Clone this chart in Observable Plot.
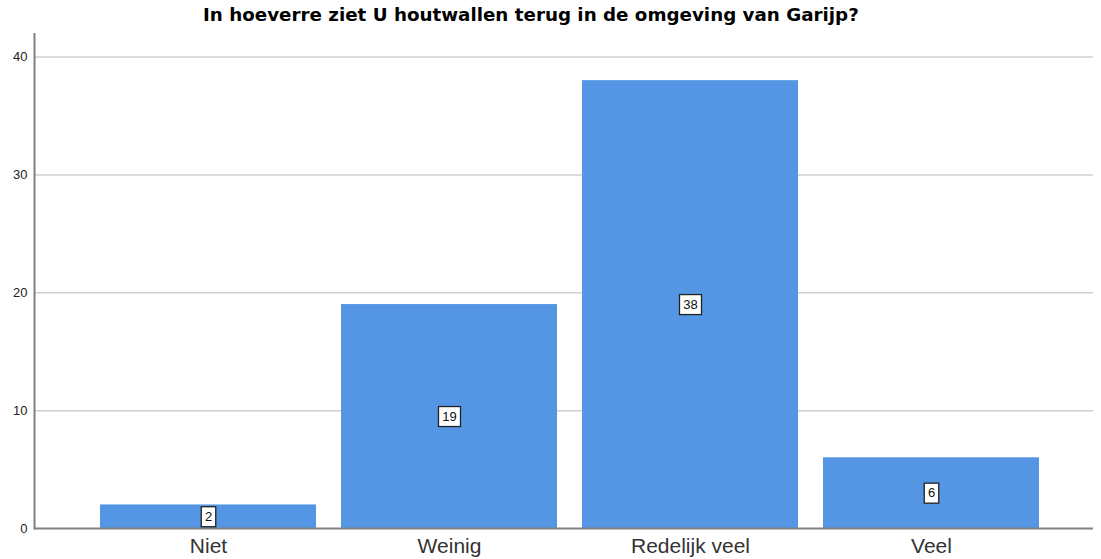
<!DOCTYPE html>
<html>
<head>
<meta charset="utf-8">
<script src="https://cdn.jsdelivr.net/npm/d3@7"></script>
<script src="https://cdn.jsdelivr.net/npm/@observablehq/plot@0.6"></script>
<style>
  body { margin: 0; background: #fff; font-family: "Liberation Sans", Arial, sans-serif; }
  #title { height: 33px; box-sizing: border-box; padding-left: 203px; padding-top: 4px; font-family: "DejaVu Sans", sans-serif; font-weight: bold; font-size: 18.3px; color: #000; white-space: nowrap; }
</style>
</head>
<body>
<div id="title">In hoeverre ziet U houtwallen terug in de omgeving van Garijp?</div>
<div id="chart"></div>
<script>
const categories = ["Niet", "Weinig", "Redelijk veel", "Veel"];
const counts = [2, 19, 38, 6];
const yTicks = [0, 10, 20, 30, 40];

const data = categories.map((c, i) => ({category: c, count: counts[i]}));

const boxed = (index, scales, values, dimensions, context, next) => {
  const g = next(index, scales, values, dimensions, context);
  index.forEach((i) => {
    const t = String(data[i].count);
    const w = t.length * 7.5 + 7;
    const h = 20;
    const cx = values.x[i];
    const cy = values.y[i];
    const r = document.createElementNS("http://www.w3.org/2000/svg", "rect");
    r.setAttribute("x", cx - w / 2);
    r.setAttribute("y", cy - h / 2);
    r.setAttribute("width", w);
    r.setAttribute("height", h);
    r.setAttribute("fill", "#fff");
    r.setAttribute("stroke", "#222");
    r.setAttribute("stroke-width", 1.3);
    g.insertBefore(r, g.firstChild);
  });
  return g;
};

const chart = Plot.plot({
  width: 1101,
  height: 526,
  marginTop: 0,
  marginLeft: 34,
  marginRight: 8,
  marginBottom: 31,
  style: {fontFamily: "'Liberation Sans', Arial, sans-serif", background: "#fff"},
  x: {
    domain: categories,
    range: [87.5, 1051.5],
    paddingInner: 0.104,
    paddingOuter: 0.052,
    label: null
  },
  y: {domain: [0, 42], label: null},
  marks: [
    Plot.ruleY(yTicks.filter(d => d > 0), {stroke: "#cfcfcf", strokeWidth: 1.5}),
    Plot.barY(data, {x: "category", y: "count", fill: "#5596e4"}),
    Plot.ruleY([0], {stroke: "#808080", strokeWidth: 2}),
    Plot.frame({anchor: "left", stroke: "#808080", strokeWidth: 2}),
    Plot.axisY({ticks: yTicks, tickSize: 0, tickPadding: 7, fontSize: 13, fill: "#222", label: null}),
    Plot.axisX({tickSize: 0, tickPadding: 10, fontSize: 21, fill: "#333", label: null}),
    Plot.text(data, {x: "category", y: d => d.count / 2, text: d => String(d.count), fontSize: 13, fill: "#111", render: boxed})
  ]
});
document.getElementById("chart").appendChild(chart);
</script>
</body>
</html>
